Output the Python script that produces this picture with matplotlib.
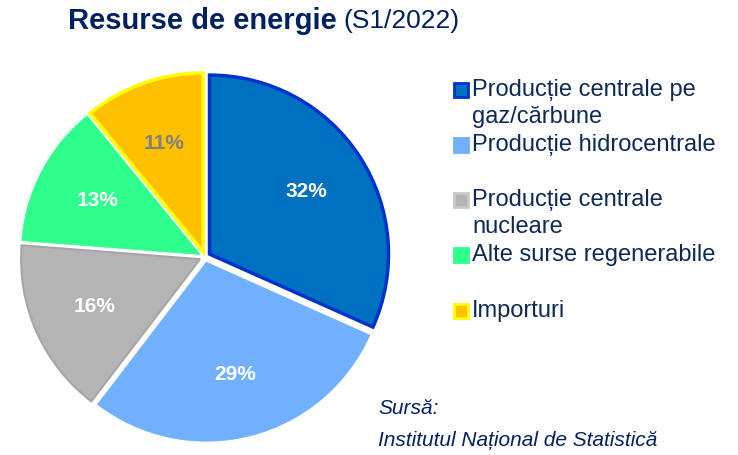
import numpy as np
import matplotlib.pyplot as plt
from matplotlib.patches import Rectangle

plt.rcParams['font.family'] = ['Liberation Sans', 'DejaVu Sans']

# data
categorii = ["Producție centrale pe\ngaz/cărbune", "Producție hidrocentrale",
             "Producție centrale\nnucleare", "Alte surse regenerabile", "Importuri"]
procente = [32, 29, 16, 13, 11]
culori = ["#0070C0", "#70B0FF", "#B4B4B4", "#2EFF8C", "#FFC000"]
margini = ["#0033CC", "#70B0FF", "#A6A6A6", "#2EFF8C", "#FFFF00"]
culori_text = ["white", "white", "white", "white", "#7F7F7F"]
grosimi = [2.5, 0.5, 1.5, 0.5, 2.5]

W, H = 738, 455
fig = plt.figure(figsize=(W / 100, H / 100), dpi=100)

# pie axes
R = 179
cx, cy = 205, 257
half = 1.15 * R
ax = fig.add_axes([(cx - half) / W, (H - cy - half) / H, 2 * half / W, 2 * half / H])
wedges, texts = ax.pie(procente, colors=culori, startangle=90, counterclock=False,
                       explode=[0.03] * 5, labels=[f"{p}%" for p in procente],
                       labeldistance=0.645)
for w, ec, lw in zip(wedges, margini, grosimi):
    w.set_edgecolor(ec)
    w.set_linewidth(lw)
for t, c in zip(texts, culori_text):
    t.set_color(c)
    t.set_fontsize(15)
    t.set_fontweight("bold")
    t.set_ha("center")
    t.set_va("center")
ax.set_xlim(-1.15, 1.15)
ax.set_ylim(-1.15, 1.15)
ax.set_aspect("equal")
ax.axis("off")

# title
navy = "#002060"
t1 = fig.text(68 / W, 1 - 21 / H, "Resurse de energie", fontsize=21, fontweight="bold",
              color=navy, va="center", ha="left")
fig.canvas.draw()
bb = t1.get_window_extent(fig.canvas.get_renderer())
fig.text(bb.x1 / W + 7 / W, 1 - 21 / H, "(S1/2022)", fontsize=19, color=navy,
         va="center", ha="left")

# legend
text_col = "#0D2A55"
ys = [90, 145, 200, 255, 311]
for lab, y, fc, ec in zip(categorii, ys, culori, margini):
    if ec == "#A6A6A6":
        ec = "#C8C8C8"
    fig.patches.append(Rectangle((454 / W, 1 - (y + 7) / H), 14 / W, 14 / H,
                                 facecolor=fc, edgecolor=ec, linewidth=2,
                                 transform=fig.transFigure, figure=fig))
    fig.text(472 / W, 1 - (y - 11) / H, lab, fontsize=17, color=text_col,
             va="top", ha="left", linespacing=1.28)

# source
fig.text(378 / W, 1 - 408 / H, "Sursă:", fontsize=15, style="italic",
         color=navy, va="center", ha="left")
fig.text(378 / W, 1 - 440 / H, "Institutul Național de Statistică", fontsize=15,
         style="italic", color=navy, va="center", ha="left")

fig.savefig("out.png", dpi=100)
